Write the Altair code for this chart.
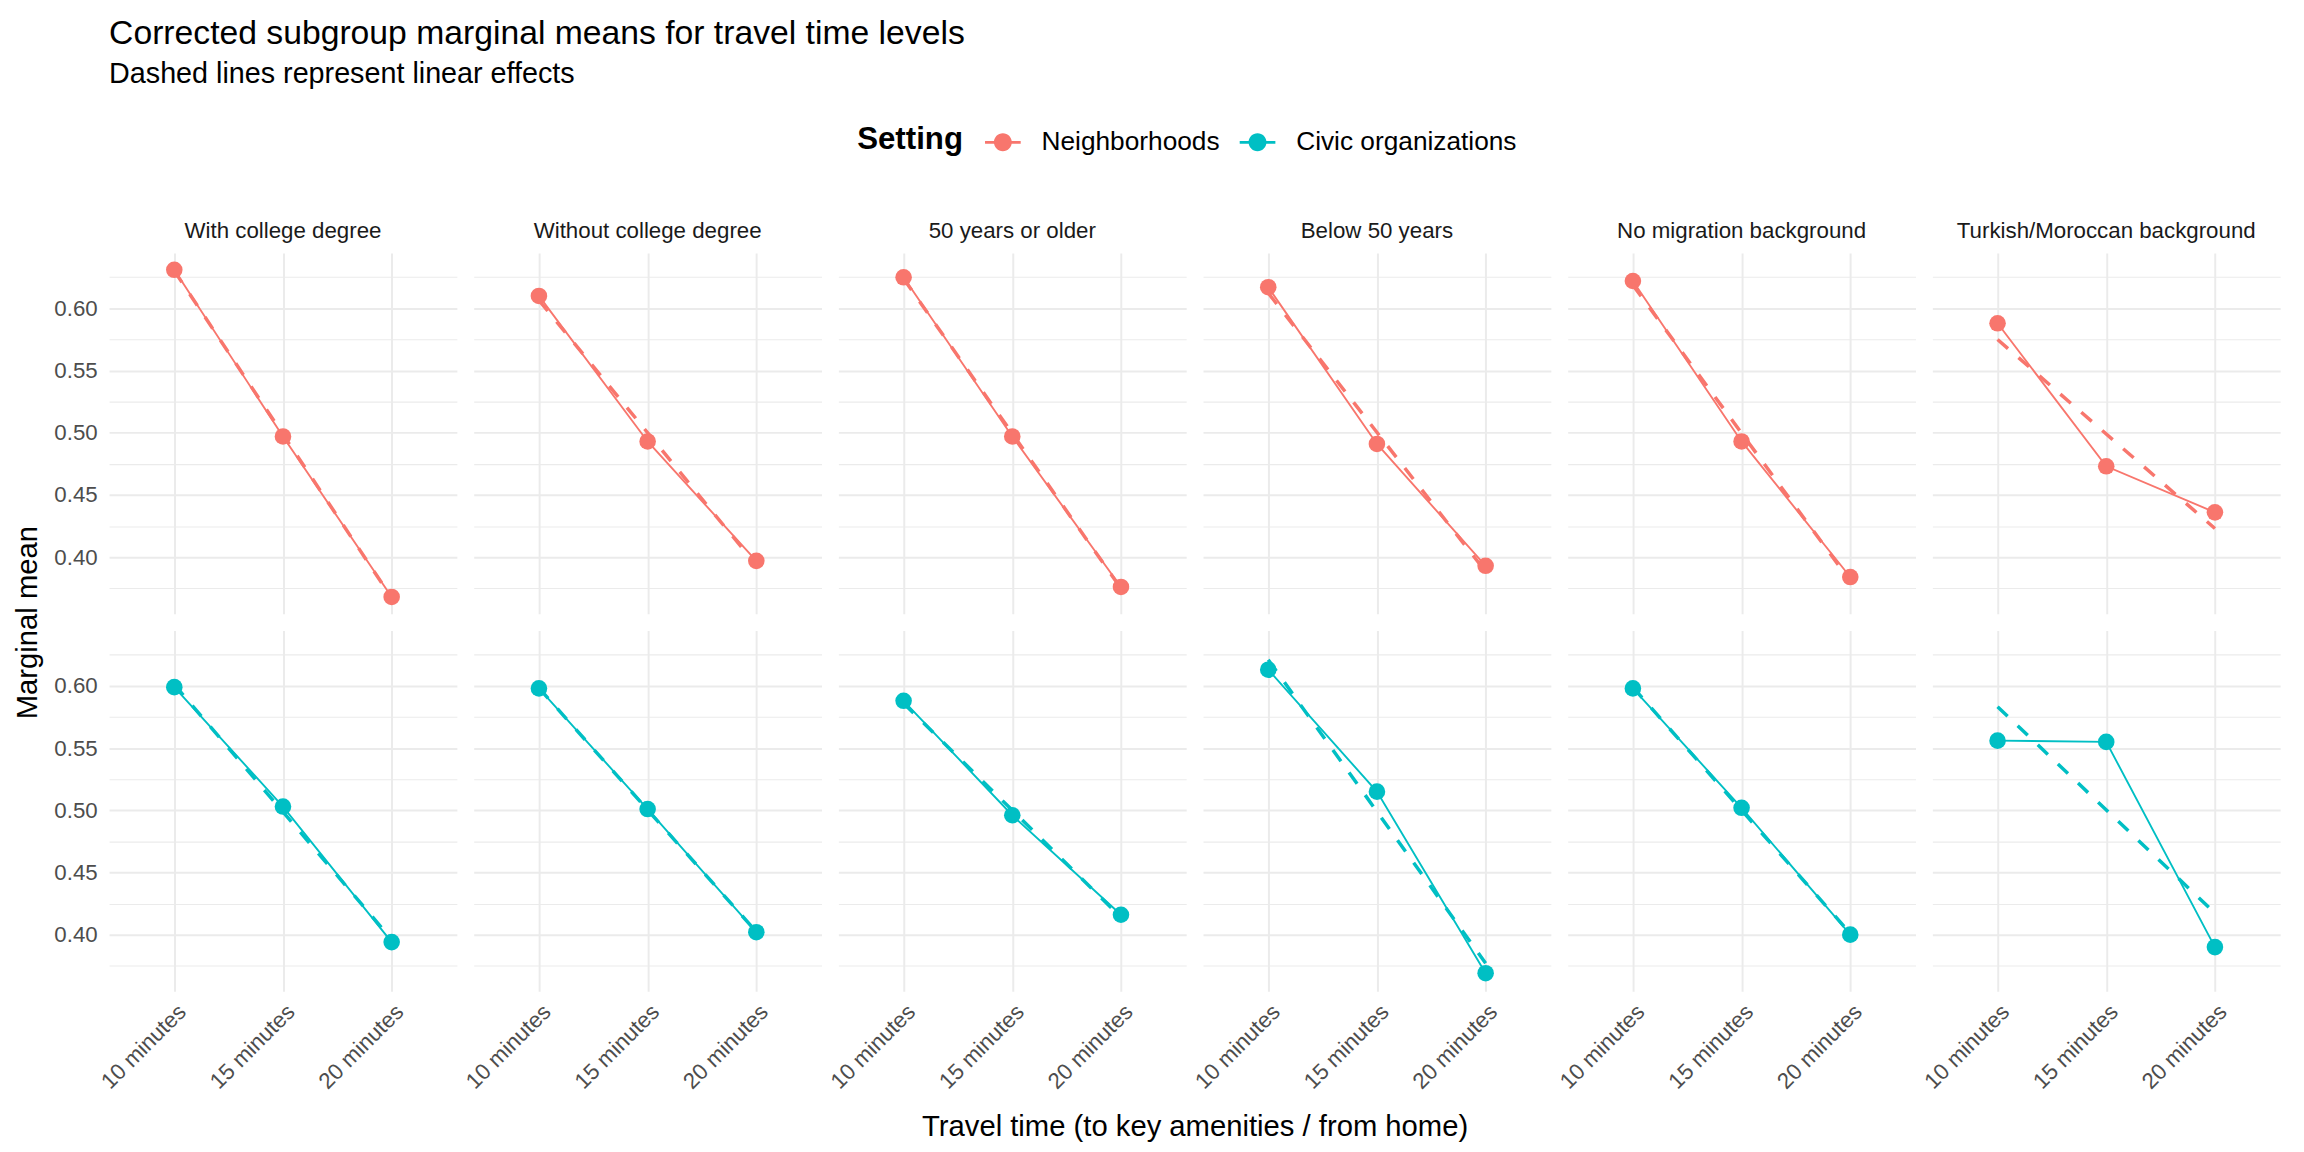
import altair as alt
import pandas as pd

subgroups = ["With college degree", "Without college degree", "50 years or older",
             "Below 50 years", "No migration background", "Turkish/Moroccan background"]
settings = ["Neighborhoods", "Civic organizations"]
time_labels = ["10 minutes", "15 minutes", "20 minutes"]
minutes = [10, 15, 20]

neighborhoods = [
    [0.631, 0.497, 0.368],
    [0.610, 0.493, 0.397],
    [0.625, 0.497, 0.376],
    [0.617, 0.491, 0.393],
    [0.622, 0.493, 0.384],
    [0.588, 0.473, 0.436],
]
civic = [
    [0.599, 0.503, 0.394],
    [0.598, 0.501, 0.402],
    [0.588, 0.496, 0.416],
    [0.613, 0.515, 0.369],
    [0.598, 0.502, 0.400],
    [0.556, 0.555, 0.390],
]

y_ticks = [0.375, 0.40, 0.425, 0.45, 0.475, 0.50, 0.525, 0.55, 0.575, 0.60, 0.625]

rows = []
for s, series in zip(settings, [neighborhoods, civic]):
    for g, vals in zip(subgroups, series):
        for t, m, v in zip(time_labels, minutes, vals):
            rows.append({"setting": s, "subgroup": g, "time": t, "minutes": m, "value": v})
df = pd.DataFrame(rows)

FONT = "Liberation Sans"
colors = ["#F8766D", "#00BFC4"]
GRID = "#EBEBEB"
major_test = "abs(datum.value*20 - round(datum.value*20)) < 0.001"

legend_symbol = ("M-1,-0.075H1V0.075H-1Z "
                 "M0.5,0A0.5,0.5,0,1,1,-0.5,0A0.5,0.5,0,1,1,0.5,0Z")

fill_legend = alt.Fill(
    "setting:N",
    scale=alt.Scale(domain=settings, range=colors),
    legend=alt.Legend(
        title="Setting", orient="none", direction="horizontal",
        legendX=755, legendY=-130,
        titleOrient="left", titleFontSize=31.5, titleFontWeight="bold", titleColor="black",
        titleFont=FONT, titlePadding=22,
        labelFontSize=26.5, labelFont=FONT, labelColor="black", labelOffset=21,
        labelLimit=600,
        columnPadding=20, symbolType=legend_symbol, symbolSize=1296,
        symbolOpacity=1, symbolStrokeWidth=0,
    ),
)
# lines take their colour from a condition (no second scale, so no legend to merge)
line_stroke = alt.when(alt.datum.setting == settings[0]).then(
    alt.value(colors[0])).otherwise(alt.value(colors[1]))

x = alt.X(
    "minutes:Q",
    scale=alt.Scale(domain=[7, 23], nice=False, zero=False),
    axis=alt.Axis(
        values=minutes, title=None, labelExpr="datum.value + ' minutes'",
        labelAngle=-45, labelAlign="right", labelBaseline="top",
        labelFontSize=22.5, labelFont=FONT, labelColor="#4D4D4D", labelPadding=8,
        labelFlush=False, labelOverlap=False, labelBound=False,
        ticks=False, domain=False, grid=True, gridColor=GRID, gridWidth=2,
    ),
)
y = alt.Y(
    "value:Q",
    scale=alt.Scale(domain=[0.3545, 0.6445], nice=False, zero=False),
    axis=alt.Axis(
        values=y_ticks, title=None,
        labelExpr="(" + major_test + ") ? format(datum.value, '.2f') : ''",
        labelFontSize=22.5, labelFont=FONT, labelColor="#4D4D4D", labelPadding=11,
        labelOverlap=False, labelFlush=False, ticks=False, domain=False,
        grid=True, gridColor=GRID,
        gridWidth={"condition": {"test": major_test, "value": 2}, "value": 1.1},
    ),
)

solid = alt.Chart().mark_line(strokeWidth=1.9).encode(
    x=x, y=y, stroke=line_stroke, detail="setting:N")
dashed = alt.Chart().transform_regression(
    "minutes", "value", groupby=["setting", "subgroup"], method="linear"
).mark_line(strokeWidth=3.5, strokeDash=[14, 14]).encode(
    x=x, y=y, stroke=line_stroke, detail="setting:N")
points = alt.Chart().mark_point(filled=True, size=280, opacity=1, strokeWidth=0).encode(
    x=x, y=y, fill=fill_legend)

layered = alt.layer(solid, dashed, points, data=df).properties(width=351, height=364)

chart = layered.facet(
    column=alt.Column(
        "subgroup:N", sort=subgroups,
        header=alt.Header(
            title="Travel time (to key amenities / from home)", titleOrient="bottom",
            titleFontSize=29.5, titleFont=FONT, titleFontWeight="normal", titleColor="black",
            titlePadding=10,
            labelOrient="top", labelFontSize=22.5, labelFont=FONT, labelColor="#1A1A1A",
            labelPadding=10,
        ),
    ),
    row=alt.Row(
        "setting:N", sort=settings,
        header=alt.Header(
            labels=False, title="Marginal mean", titleOrient="left",
            titleFontSize=29.5, titleFont=FONT, titleFontWeight="normal", titleColor="black",
            titlePadding=0,
        ),
    ),
    spacing={"row": 15, "column": 15},
).properties(
    title=alt.TitleParams(
        text="Corrected subgroup marginal means for travel time levels",
        subtitle="Dashed lines represent linear effects",
        anchor="start", frame="group", fontSize=34, subtitleFontSize=29,
        font=FONT, subtitleFont=FONT, fontWeight="normal", color="black",
        subtitleColor="black", subtitlePadding=9, offset=36,
    ),
    padding={"left": 5, "top": 4, "right": 15, "bottom": 10},
).configure_view(stroke="transparent")

chart.save("out.html", embed_options={"renderer": "svg", "actions": False})
